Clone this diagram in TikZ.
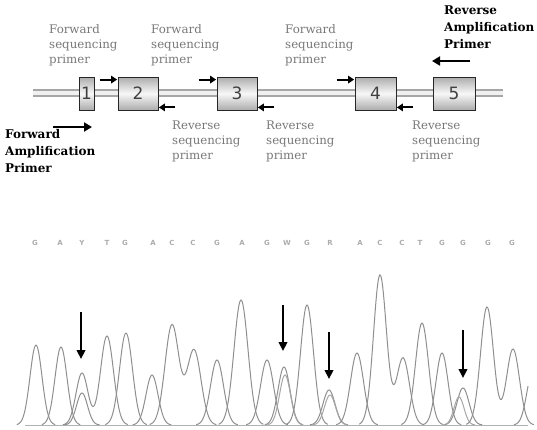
\documentclass[tikz,border=0pt]{standalone}
\usepackage{fontspec}
\setmainfont{DejaVu Serif}
\newfontfamily\numfont{DejaVu Sans}
\usetikzlibrary{arrows.meta,calc}
\definecolor{txtgray}{gray}{0.47}
\definecolor{tracegray}{gray}{0.56}
\newcommand{\pk}[4][]{%
  \pgfmathsetmacro\pkA{#2-3.2*#4}\pgfmathsetmacro\pkB{#2+3.2*#4}%
  \draw[trace,#1] plot[domain=\pkA:\pkB,samples=45,smooth] (\x,{425-#3*exp(-((\x-#2)*(\x-#2))/(2*#4*#4))});}
\newcommand{\pkk}[6]{%
  \pgfmathsetmacro\pkA{#1-3.2*#3}\pgfmathsetmacro\pkB{#4+3.2*#6}%
  \draw[trace] plot[domain=\pkA:\pkB,samples=70,smooth] (\x,{425-#2*exp(-((\x-#1)*(\x-#1))/(2*#3*#3))-#5*exp(-((\x-#4)*(\x-#4))/(2*#6*#6))});}
\begin{document}
\begin{tikzpicture}[x=1pt,y=-1pt,
  seqlabel/.style={font=\fontsize{11.8}{15}\selectfont, text=txtgray, align=left, anchor=north west, inner sep=0},
  amplabel/.style={font=\bfseries\fontsize{12}{17}\selectfont, align=left, anchor=north west, inner sep=0},
  exon/.style={draw=black!85, line width=0.8pt, shading=axis, top color=gray!65, bottom color=gray!65, middle color=gray!6, minimum height=33pt, inner sep=0, font=\numfont\fontsize{17}{17}\selectfont, text=black!75},
  prim/.style={line width=2pt, -{Triangle[length=6pt,width=7.5pt]}},
  amp/.style={line width=2.4pt, -{Triangle[length=8pt,width=9pt]}},
  mut/.style={line width=2.2pt, -{Triangle[length=9pt,width=8.5pt]}},
  trace/.style={draw=tracegray, line width=1pt},
  base letter/.style={font=\numfont\bfseries\fontsize{7}{7}\selectfont, text=gray!65, inner sep=0},
]
\useasboundingbox (0,0) rectangle (537,429);

% DNA double line
\coordinate (dnaL) at (33,93);
\coordinate (dnaR) at (503,93);
\draw[line width=8pt, gray!70] (dnaL) -- (dnaR);
\draw[line width=4.4pt, gray!12] (dnaL) -- (dnaR);

% exons
\node[exon, minimum width=15pt] (b1) at (86.5,93.5) {1};
\node[exon, minimum width=40pt] (b2) at (138,93.5) {2};
\node[exon, minimum width=40pt] (b3) at (237,93.5) {3};
\node[exon, minimum width=41pt] (b4) at (375.5,93.5) {4};
\node[exon, minimum width=42pt] (b5) at (454,93.5) {5};

% sequencing primers
\foreach \b in {b2,b3,b4}{
  \coordinate (f\b s) at ($(\b.north west)+(-18,3)$);
  \coordinate (f\b e) at ($(\b.north west)+(-0.5,3)$);
  \draw[prim] (f\b s) -- (f\b e);
  \coordinate (r\b s) at ($(\b.south east)+(17,-3)$);
  \coordinate (r\b e) at ($(\b.south east)+(0.5,-3)$);
  \draw[prim] (r\b s) -- (r\b e);
}

% amplification primers
\coordinate (fas) at (53,127);
\coordinate (fae) at (92,127);
\draw[amp] (fas) -- (fae);
\coordinate (ras) at (470,61);
\coordinate (rae) at (432,61);
\draw[amp] (ras) -- (rae);

% labels
\node[seqlabel] (fs1) at (49,24) {Forward\\sequencing\\primer};
\node[seqlabel] (fs2) at (151,24) {Forward\\sequencing\\primer};
\node[seqlabel] (fs3) at (285,24) {Forward\\sequencing\\primer};
\node[seqlabel] (rs1) at (172,121) {Reverse\\sequencing\\primer};
\node[seqlabel] (rs2) at (266,121) {Reverse\\sequencing\\primer};
\node[seqlabel] (rs3) at (412,121) {Reverse\\sequencing\\primer};
\node[amplabel] (fal) at (5,129) {Forward\\Amplification\\Primer};
\node[amplabel] (ral) at (444,6) {Reverse\\Amplification\\Primer};

% base calls
\foreach \xx/\l [count=\i] in {35/G,60/A,82/Y,107/T,125/G,153/A,172/C,193/C,217/G,242/A,267/G,287/W,307/G,330/R,360/A,380/C,402/C,420/T,442/G,463/G,488/G,512/G}{
  \node[base letter] (bc\i) at (\xx,243) {\l};
}

% chromatogram
\coordinate (bl0) at (25,425);
\coordinate (bl1) at (528,425);
\draw[gray!60, line width=0.8pt] (bl0) -- (bl1);
\pk{36}{80}{6}
\pk{61}{78}{6}
\pkk{82}{52}{6}{107}{89}{6.5}
\pk{82}{32}{5.5}
\pk{126}{92}{6.5}
\pk{152}{50}{6}
\pkk{172}{100}{7}{194}{75}{7}
\pk{217}{65}{6.5}
\pk{241}{125}{7}
\pk{267}{65}{6.5}
\pk{284}{58}{6}
\pk[draw=gray!70]{285}{50}{5.5}
\pk{307}{120}{6.5}
\pk{329}{35}{6}
\pk[draw=gray!70]{330}{30}{5.5}
\pk{357}{72}{6.5}
\pkk{380}{150}{6.5}{403}{67}{6.5}
\pk{422}{102}{6.5}
\pk{442}{72}{6}
\pk{463}{37}{6}
\pk[draw=gray!70]{459}{28}{5}
\pkk{487}{118}{6.5}{513}{76}{6.5}
\draw[trace] plot[domain=514:528,samples=20,smooth] (\x,{425-55*exp(-((\x-533)*(\x-533))/72)});

% mutation arrows
\coordinate (m1a) at (81,312);  \coordinate (m1b) at (81,359);
\coordinate (m2a) at (283,305); \coordinate (m2b) at (283,351);
\coordinate (m3a) at (329,332); \coordinate (m3b) at (329,379);
\coordinate (m4a) at (463,330); \coordinate (m4b) at (463,378);
\draw[mut] (m1a) -- (m1b);
\draw[mut] (m2a) -- (m2b);
\draw[mut] (m3a) -- (m3b);
\draw[mut] (m4a) -- (m4b);
\end{tikzpicture}
\end{document}
